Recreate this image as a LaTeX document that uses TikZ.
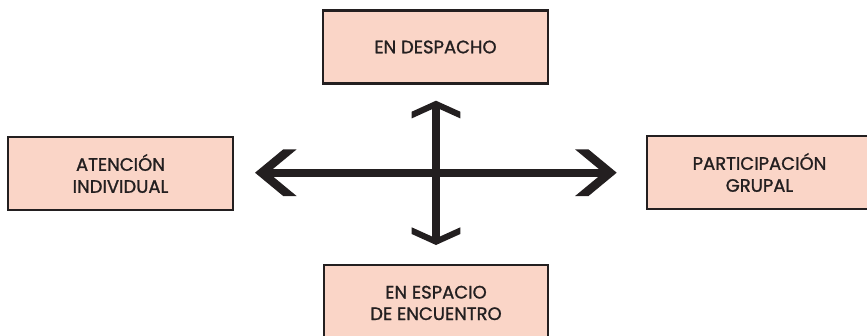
\documentclass[tikz,border=0pt]{standalone}
\usepackage{fontspec}
\setmainfont{Poppins}[FakeBold=1.2]
\usetikzlibrary{calc}
\definecolor{boxfill}{RGB}{250,213,199}
\definecolor{ink}{RGB}{35,31,32}
\tikzset{
  box/.style={draw=ink, fill=boxfill, line width=2.6pt, minimum width=225pt,
    minimum height=73pt, inner sep=0pt, align=center, text=ink,
    font=\fontsize{18pt}{22pt}\selectfont},
  shaft/.style={ink, line width=8.3pt},
  head/.style={fill=ink, draw=none}
}
\begin{document}
\begin{tikzpicture}[x=1pt,y=-1pt]
\useasboundingbox (0,0) rectangle (867,335);
\node[box] (top) at (435.5,47) {EN DESPACHO};
\node[box] (left) at (120.5,173.5) {ATENCIÓN\\INDIVIDUAL};
\node[box] (right) at (759.5,172.5) {PARTICIPACIÓN\\GRUPAL};
\node[box, minimum width=224pt, minimum height=74pt] (bottom) at (436,302) {};
\node[text=ink, align=center, font=\fontsize{18pt}{21.5pt}\selectfont, anchor=base, inner sep=0pt] (btext) at (436,320) {EN ESPACIO\\DE ENCUENTRO};
% arrow geometry
\coordinate (L) at (255,172.7);
\coordinate (R) at (616.7,172.7);
\coordinate (T) at (436,100.7);
\coordinate (B) at (436,245);
\draw[shaft] ($(L)+(8,0)$) -- ($(R)+(-8,0)$);
\draw[shaft] ($(T)+(0,4)$) -- ($(B)+(0,-4)$);
% left head
\fill[head] (L) -- ++(28.3,-23.4) -- ++(13.4,0) -- ++(-28.3,23.4) -- ++(28.3,23.4) -- ++(-13.4,0) -- cycle;
% right head
\fill[head] (R) -- ++(-28.3,-23.4) -- ++(-13.4,0) -- ++(28.3,23.4) -- ++(-28.3,23.4) -- ++(13.4,0) -- cycle;
% top head
\fill[head] (T) -- ++(-24.3,11) -- ++(0,6.7) -- ++(24.3,-11) -- ++(24.3,11) -- ++(0,-6.7) -- cycle;
% bottom head
\fill[head] (B) -- ++(-24.3,-11) -- ++(0,-6.7) -- ++(24.3,11) -- ++(24.3,-11) -- ++(0,6.7) -- cycle;
\end{tikzpicture}
\end{document}
